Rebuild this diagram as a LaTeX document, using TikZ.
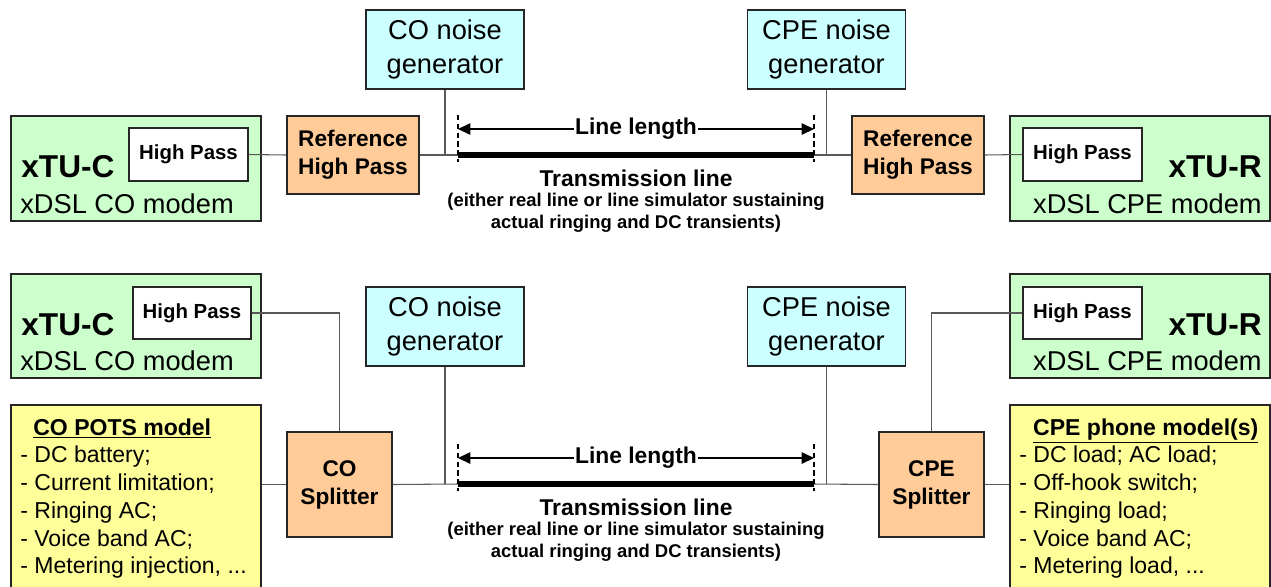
\documentclass[tikz,border=0pt]{standalone}
\usepackage{fontspec}
\setmainfont{Liberation Sans}
\usetikzlibrary{arrows.meta, positioning, calc}

\definecolor{modemgreen}{RGB}{204,255,204}
\definecolor{noisecyan}{RGB}{204,255,255}
\definecolor{filterorange}{RGB}{255,204,153}
\definecolor{phoneyellow}{RGB}{255,255,153}

\tikzset{
	box/.style={draw=black!85, line width=0.8pt, inner sep=1pt, align=center},
	modem/.style={box, fill=modemgreen, minimum width=5cm, minimum height=2.1cm},
	hpass/.style={box, fill=white, minimum width=2.38cm, minimum height=1.06cm, font=\bfseries\fontsize{11.6}{13}\selectfont},
	reffilter/.style={box, fill=filterorange, minimum width=2.64cm, minimum height=1.56cm, font=\bfseries\fontsize{12.9}{15.9}\selectfont},
	splitter/.style={box, fill=filterorange, minimum width=2.1cm, minimum height=2.1cm, font=\bfseries\fontsize{12.9}{15.9}\selectfont},
	noisegen/.style={box, fill=noisecyan, minimum width=3.16cm, minimum height=1.58cm, font=\fontsize{15.5}{19}\selectfont},
	phonemodel/.style={box, fill=phoneyellow, line width=1.4pt, minimum width=5cm, minimum height=3.8cm},
	modemname/.style={inner sep=0pt, font=\bfseries\fontsize{18}{20}\selectfont},
	modemtype/.style={inner sep=0pt, font=\fontsize{15.5}{18}\selectfont},
	listtext/.style={inner sep=0pt, align=left, font=\fontsize{13.1}{15.8}\selectfont},
	wire/.style={draw=black!65, line width=0.6pt},
	tline/.style={draw=black, line width=3pt},
	dimline/.style={draw=black, line width=0.7pt, -{Triangle[length=7pt,width=6.5pt]}},
	tick/.style={draw=black, line width=0.7pt, dash pattern=on 3pt off 2pt},
	lenlabel/.style={inner sep=0.5pt, font=\bfseries\fontsize{13}{15}\selectfont},
	translabel/.style={inner sep=0pt, font=\bfseries\fontsize{13}{15}\selectfont},
	transnote/.style={inner sep=0pt, align=center, font=\bfseries\fontsize{10.5}{12.5}\selectfont}
}

\begin{document}
\begin{tikzpicture}[x=0.02cm, y=-0.02cm]
	\clip (0,0) rectangle (1271,586);

	% Upper setup: reference high pass filters
	\node[modem] (cmodA) at (136,168.5) {};
	\node[hpass] (hpA) at (188.5,154.5) {High Pass};
	\node[modemname, anchor=base west] (cnameA) at (21,177) {xTU-C};
	\node[modemtype, anchor=base west] (ctypeA) at (20,213) {xDSL CO modem};
	\node[reffilter] (refA) at (353,155) {Reference\\High Pass};
	\node[noisegen] (ngA) at (445,49.5) {CO noise\\generator};

	\node[noisegen] (ngB) at (826.5,49.5) {CPE noise\\generator};
	\node[reffilter] (refB) at (918,155) {Reference\\High Pass};
	\node[modem, minimum width=5.2cm] (rmodA) at (1140,168.5) {};
	\node[hpass] (hpB) at (1082.5,154.5) {High Pass};
	\node[modemname, anchor=base east] (rnameA) at (1262,177) {xTU-R};
	\node[modemtype, anchor=base east] (rtypeA) at (1262,213) {xDSL CPE modem};

	\coordinate (lineA-l) at (458,155);
	\coordinate (lineA-r) at (814,155);
	\coordinate (dimA-l) at (458,129);
	\coordinate (dimA-r) at (814,129);
	\node[lenlabel] (lenA) at (636,129) {Line length};
	\node[translabel] (transA) at (636,178) {Transmission line};
	\node[transnote] (noteA) at (636,213) {(either real line or line simulator sustaining\\actual ringing and DC transients)};

	\draw[wire] (hpA.east) -- (refA.west);
	\draw[wire] (refA.east) -- (lineA-l);
	\draw[tline] (lineA-l) -- (lineA-r);
	\draw[wire] (lineA-r) -- (refB.west);
	\draw[wire] (refB.east) -- (hpB.west);
	\draw[wire] (ngA.south) -- (ngA.south |- lineA-l);
	\draw[wire] (ngB.south) -- (ngB.south |- lineA-r);
	\draw[dimline] (lenA.west) -- (dimA-l);
	\draw[dimline] (lenA.east) -- (dimA-r);
	\draw[tick] (dimA-l) ++(0,-14) -- ++(0,47);
	\draw[tick] (dimA-r) ++(0,-14) -- ++(0,47);

	% Lower setup: splitters and POTS models
	\node[modem, minimum height=2.08cm] (cmodB) at (136,326) {};
	\node[hpass, minimum width=2.36cm, minimum height=1.04cm] (hpC) at (192,313) {High Pass};
	\node[modemname, anchor=base west] (cnameB) at (21,335) {xTU-C};
	\node[modemtype, anchor=base west] (ctypeB) at (20,370) {xDSL CO modem};
	\node[phonemodel] (potsA) at (136,500) {};
	\node[listtext, anchor=north west] (potstxtA) at (20,418) {\hspace{7.4pt}\underline{\textbf{CO POTS model}}\\- DC battery;\\- Current limitation;\\- Ringing AC;\\- Voice band AC;\\- Metering injection, ...};
	\node[splitter] (splA) at (339.5,484.5) {CO\\Splitter};
	\node[noisegen] (ngC) at (445,326.5) {CO noise\\generator};

	\node[noisegen] (ngD) at (826.5,326.5) {CPE noise\\generator};
	\node[splitter] (splB) at (931.5,484.5) {CPE\\Splitter};
	\node[modem, minimum width=5.2cm, minimum height=2.08cm] (rmodB) at (1140,326) {};
	\node[hpass, minimum height=1.04cm] (hpD) at (1082.5,313) {High Pass};
	\node[modemname, anchor=base east] (rnameB) at (1262,335) {xTU-R};
	\node[modemtype, anchor=base east] (rtypeB) at (1262,370) {xDSL CPE modem};
	\node[phonemodel, minimum width=5.2cm] (phoneB) at (1140,500) {};
	\node[listtext, anchor=north west] (phonetxtB) at (1019,418) {\hspace{7.9pt}\underline{\textbf{CPE phone model(s)}}\\- DC load; AC load;\\- Off-hook switch;\\- Ringing load;\\- Voice band AC;\\- Metering load, ...};

	\coordinate (lineB-l) at (458,484);
	\coordinate (lineB-r) at (814,484);
	\coordinate (dimB-l) at (458,458);
	\coordinate (dimB-r) at (814,458);
	\node[lenlabel] (lenB) at (636,458) {Line length};
	\node[translabel] (transB) at (636,507) {Transmission line};
	\node[transnote] (noteB) at (636,542) {(either real line or line simulator sustaining\\actual ringing and DC transients)};

	\draw[wire] (hpC.east) -| (splA.north);
	\draw[wire] (potsA.east |- splA.west) -- (splA.west);
	\draw[wire] (splA.east) -- (lineB-l);
	\draw[tline] (lineB-l) -- (lineB-r);
	\draw[wire] (lineB-r) -- (splB.west);
	\draw[wire] (splB.north) |- (hpD.west);
	\draw[wire] (splB.east) -- (splB.east -| phoneB.west);
	\draw[wire] (ngC.south) -- (ngC.south |- lineB-l);
	\draw[wire] (ngD.south) -- (ngD.south |- lineB-r);
	\draw[dimline] (lenB.west) -- (dimB-l);
	\draw[dimline] (lenB.east) -- (dimB-r);
	\draw[tick] (dimB-l) ++(0,-14) -- ++(0,47);
	\draw[tick] (dimB-r) ++(0,-14) -- ++(0,47);
\end{tikzpicture}
\end{document}
